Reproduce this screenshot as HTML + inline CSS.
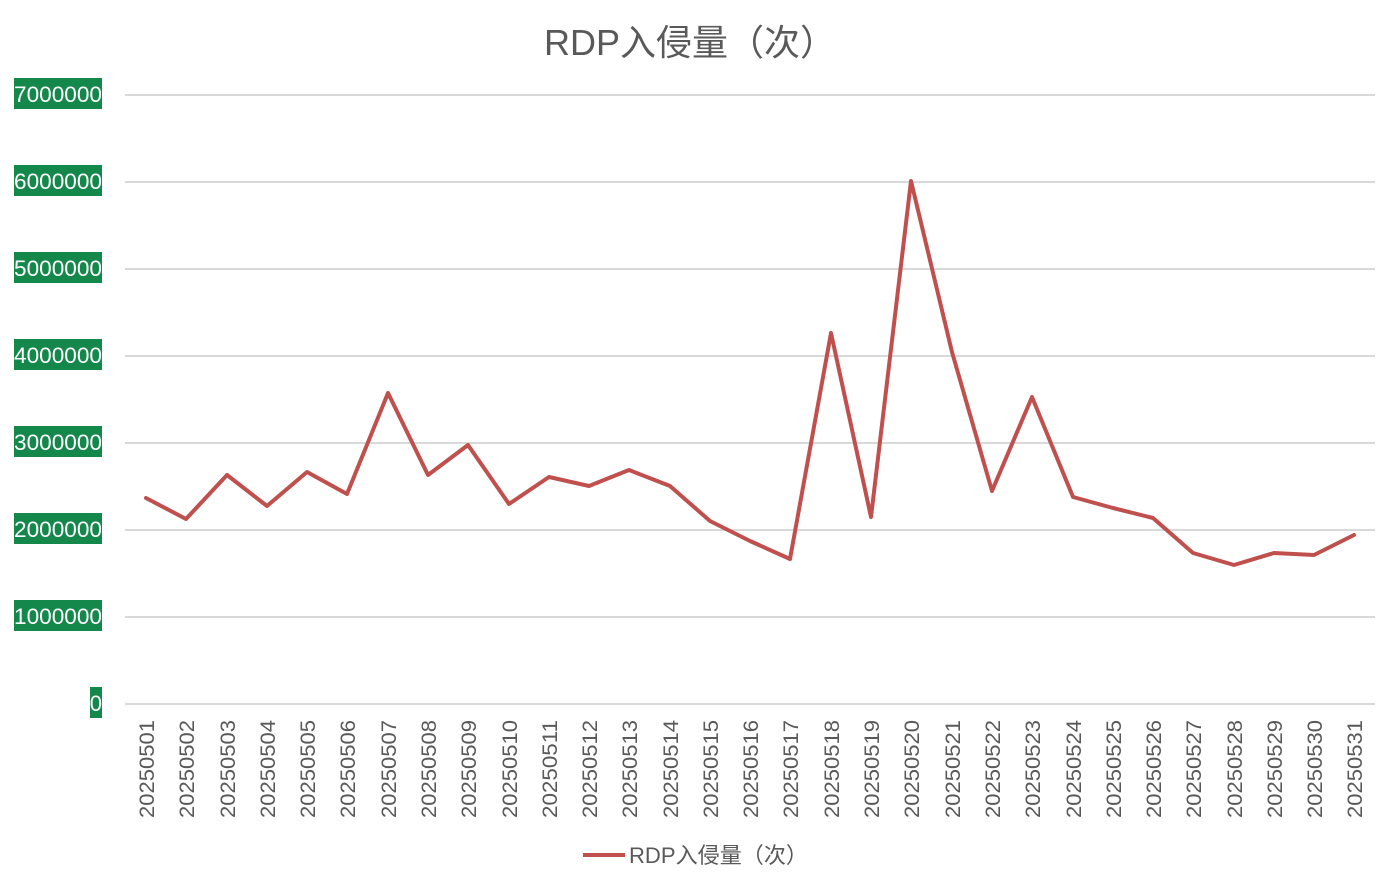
<!DOCTYPE html>
<html><head><meta charset="utf-8"><style>
html,body{margin:0;padding:0;background:#fff;}
svg{display:block;font-family:"Liberation Sans","Noto Sans CJK SC",sans-serif;}
</style></head><body>
<svg width="1397" height="889" viewBox="0 0 1397 889" xmlns="http://www.w3.org/2000/svg">
<text x="690" y="55" text-anchor="middle" font-size="36" fill="#595959">RDP入侵量（次）</text>
<g stroke="#d9d9d9" stroke-width="2">
<line x1="125" y1="95" x2="1375" y2="95"/>
<line x1="125" y1="182" x2="1375" y2="182"/>
<line x1="125" y1="269" x2="1375" y2="269"/>
<line x1="125" y1="356" x2="1375" y2="356"/>
<line x1="125" y1="443" x2="1375" y2="443"/>
<line x1="125" y1="530" x2="1375" y2="530"/>
<line x1="125" y1="617" x2="1375" y2="617"/>
<line x1="125" y1="704" x2="1375" y2="704"/>
</g>
<g fill="#14874b">
<rect x="14" y="78" width="88" height="31"/>
<rect x="14" y="165" width="88" height="31"/>
<rect x="14" y="252" width="88" height="31"/>
<rect x="14" y="339" width="88" height="31"/>
<rect x="14" y="426" width="88" height="31"/>
<rect x="14" y="513" width="88" height="31"/>
<rect x="14" y="600" width="88" height="31"/>
<rect x="90" y="687" width="12" height="31"/>
</g>
<g fill="#fff" font-size="22" text-anchor="end">
<text x="102" y="102" textLength="88" lengthAdjust="spacingAndGlyphs">7000000</text>
<text x="102" y="189" textLength="88" lengthAdjust="spacingAndGlyphs">6000000</text>
<text x="102" y="276" textLength="88" lengthAdjust="spacingAndGlyphs">5000000</text>
<text x="102" y="363" textLength="88" lengthAdjust="spacingAndGlyphs">4000000</text>
<text x="102" y="450" textLength="88" lengthAdjust="spacingAndGlyphs">3000000</text>
<text x="102" y="537" textLength="88" lengthAdjust="spacingAndGlyphs">2000000</text>
<text x="102" y="624" textLength="88" lengthAdjust="spacingAndGlyphs">1000000</text>
<text x="102" y="711">0</text>
</g>
<polyline fill="none" stroke="#c0504d" stroke-width="4" stroke-linejoin="round" stroke-linecap="round" points="146,498 186,519 227,475 267,506 307,472 347,494 388,393 428,475 468,445 509,504 549,477 589,486 629,470 670,486 710,521 750,541 790,559 831,333 871,517 911,181 952,352 992,491 1032,397 1073,497 1113,508 1153,518 1193,553 1234,565 1274,553 1314,555 1354,535"/>
<line x1="583" y1="855" x2="625" y2="855" stroke="#c0504d" stroke-width="4"/>
<text x="629" y="863" font-size="22" fill="#595959" textLength="179" lengthAdjust="spacingAndGlyphs">RDP入侵量（次）</text>
<g fill="#595959" font-size="21" text-anchor="end">
<text transform="translate(154,720) rotate(-90)" textLength="98" lengthAdjust="spacingAndGlyphs">20250501</text>
<text transform="translate(194,720) rotate(-90)" textLength="98" lengthAdjust="spacingAndGlyphs">20250502</text>
<text transform="translate(235,720) rotate(-90)" textLength="98" lengthAdjust="spacingAndGlyphs">20250503</text>
<text transform="translate(275,720) rotate(-90)" textLength="98" lengthAdjust="spacingAndGlyphs">20250504</text>
<text transform="translate(315,720) rotate(-90)" textLength="98" lengthAdjust="spacingAndGlyphs">20250505</text>
<text transform="translate(355,720) rotate(-90)" textLength="98" lengthAdjust="spacingAndGlyphs">20250506</text>
<text transform="translate(396,720) rotate(-90)" textLength="98" lengthAdjust="spacingAndGlyphs">20250507</text>
<text transform="translate(436,720) rotate(-90)" textLength="98" lengthAdjust="spacingAndGlyphs">20250508</text>
<text transform="translate(476,720) rotate(-90)" textLength="98" lengthAdjust="spacingAndGlyphs">20250509</text>
<text transform="translate(517,720) rotate(-90)" textLength="98" lengthAdjust="spacingAndGlyphs">20250510</text>
<text transform="translate(557,720) rotate(-90)" textLength="98" lengthAdjust="spacingAndGlyphs">20250511</text>
<text transform="translate(597,720) rotate(-90)" textLength="98" lengthAdjust="spacingAndGlyphs">20250512</text>
<text transform="translate(637,720) rotate(-90)" textLength="98" lengthAdjust="spacingAndGlyphs">20250513</text>
<text transform="translate(678,720) rotate(-90)" textLength="98" lengthAdjust="spacingAndGlyphs">20250514</text>
<text transform="translate(718,720) rotate(-90)" textLength="98" lengthAdjust="spacingAndGlyphs">20250515</text>
<text transform="translate(758,720) rotate(-90)" textLength="98" lengthAdjust="spacingAndGlyphs">20250516</text>
<text transform="translate(798,720) rotate(-90)" textLength="98" lengthAdjust="spacingAndGlyphs">20250517</text>
<text transform="translate(839,720) rotate(-90)" textLength="98" lengthAdjust="spacingAndGlyphs">20250518</text>
<text transform="translate(879,720) rotate(-90)" textLength="98" lengthAdjust="spacingAndGlyphs">20250519</text>
<text transform="translate(919,720) rotate(-90)" textLength="98" lengthAdjust="spacingAndGlyphs">20250520</text>
<text transform="translate(960,720) rotate(-90)" textLength="98" lengthAdjust="spacingAndGlyphs">20250521</text>
<text transform="translate(1000,720) rotate(-90)" textLength="98" lengthAdjust="spacingAndGlyphs">20250522</text>
<text transform="translate(1040,720) rotate(-90)" textLength="98" lengthAdjust="spacingAndGlyphs">20250523</text>
<text transform="translate(1081,720) rotate(-90)" textLength="98" lengthAdjust="spacingAndGlyphs">20250524</text>
<text transform="translate(1121,720) rotate(-90)" textLength="98" lengthAdjust="spacingAndGlyphs">20250525</text>
<text transform="translate(1161,720) rotate(-90)" textLength="98" lengthAdjust="spacingAndGlyphs">20250526</text>
<text transform="translate(1201,720) rotate(-90)" textLength="98" lengthAdjust="spacingAndGlyphs">20250527</text>
<text transform="translate(1242,720) rotate(-90)" textLength="98" lengthAdjust="spacingAndGlyphs">20250528</text>
<text transform="translate(1282,720) rotate(-90)" textLength="98" lengthAdjust="spacingAndGlyphs">20250529</text>
<text transform="translate(1322,720) rotate(-90)" textLength="98" lengthAdjust="spacingAndGlyphs">20250530</text>
<text transform="translate(1362,720) rotate(-90)" textLength="98" lengthAdjust="spacingAndGlyphs">20250531</text>
</g>
</svg>
</body></html>
